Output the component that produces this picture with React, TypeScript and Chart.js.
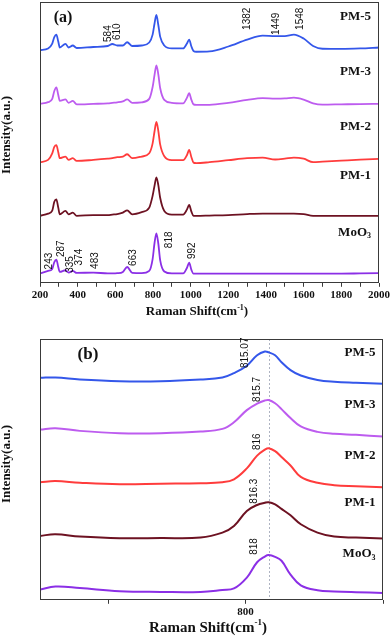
import { useEffect, useRef } from "react";
import { Chart, registerables } from "chart.js";
Chart.register(...registerables);

// ---------- shared ----------
const SERIES_NAMES = ["PM-5", "PM-3", "PM-2", "PM-1", "MoO3"];
const COLORS = ["#3457ea", "#bd5cef", "#ff3c3c", "#6d1222", "#8b2fe6"];

// ---------- panel (a): full Raman spectra ----------
const X_TOP = [200, 243, 265, 276, 287, 297, 305, 335, 352, 374, 395, 483, 560, 584, 610, 640, 663, 690, 740, 780, 798, 808, 818, 828, 838, 860, 900, 960, 980, 992, 1004, 1015, 1030, 1100, 1200, 1300, 1382, 1449, 1500, 1548, 1600, 1650, 1700, 1800, 1900, 2000];
const PM5_TOP = [235.3, 237, 242, 248.5, 251, 244, 238, 241.7, 238, 240, 237.5, 238.5, 239.5, 241.5, 240, 240, 243.3, 239.5, 240, 243, 251, 262, 271, 261, 249, 240, 237, 237, 242, 246, 239, 234.5, 233.7, 234, 239, 246, 250, 249.5, 249.5, 251, 247, 239.5, 236.7, 236.5, 237, 238];
const PM3_TOP = [181, 182.7, 186, 194, 197.7, 190, 184, 185.5, 182, 184, 180.5, 181, 181.5, 182, 182.5, 183.5, 185.5, 182, 182.5, 186, 198, 210, 220, 211, 197, 185, 182, 181.5, 187, 191.7, 185, 180.5, 180, 180, 182, 185, 186.7, 186.3, 186.5, 187.3, 185.3, 181.5, 180.2, 180.5, 180.8, 181];
const PM2_TOP = [122, 124.3, 131, 137.5, 139.3, 132, 126, 127.7, 124.3, 126, 123.3, 124.3, 125.5, 126, 127, 127.7, 130, 126, 127.7, 131, 141, 153, 162.7, 154, 140, 128, 124, 124, 129, 134.3, 127, 121.5, 121, 122, 124, 126, 126.7, 124.7, 125.5, 126.7, 125.5, 122, 122.5, 123.5, 124.5, 125.3];
const PM1_TOP = [67.7, 70, 73, 82, 84.3, 76, 69.3, 72.7, 69.3, 71, 67.7, 68.5, 68.5, 69, 69.5, 71, 73.3, 69.3, 71.5, 76, 88, 98, 106.7, 99, 86, 72.7, 69, 69, 74, 78.7, 72, 67.7, 67.7, 68, 68.5, 69.5, 70, 70, 70, 70, 69.5, 67.7, 67.7, 67.7, 67.7, 67.7];
const MOO3_TOP = [9.3, 12, 14, 21, 23.3, 16, 11, 12.7, 10.3, 12, 10, 10.3, 9.5, 9.5, 9.7, 11, 16, 10, 9.7, 12, 24, 40, 50, 40, 23, 11.5, 9.5, 9.5, 15, 20.3, 13, 9.3, 9.3, 9.3, 9.3, 9.3, 9.3, 9.3, 9.3, 9.3, 9.3, 9.3, 9.3, 9.3, 9.5, 9.7];
const TOP_NAME_Y = [269, 214, 158, 108, 51];
const TOP_PEAK_LABELS: [string, number, number][] = [
  ["584", 561, 252], ["610", 612, 254], ["1382", 1301, 267], ["1449", 1457, 262], ["1548", 1582, 267],
  ["243", 247, 22], ["287", 314, 34.5], ["335", 362, 18.5], ["374", 406, 26], ["483", 494, 22.5],
  ["663", 697, 25.5], ["818", 885, 43.5], ["992", 1010, 32.5],
];

// ---------- panel (b): zoom on the ~818 band ----------
const X_BOT = [640, 652, 671, 702, 734, 765, 782, 791, 801, 809, 815, 818, 823, 828, 835, 843, 856, 869, 886, 907];
const PM5_BOT = [224.7, 225, 223, 221.3, 221.3, 223, 225, 229.5, 237, 247.5, 251.3, 250.5, 247.5, 240.5, 232.5, 227, 222.5, 220.7, 219.7, 218.7];
const PM3_BOT = [172.3, 173.7, 171, 168.7, 168.7, 170.3, 173, 179.7, 192, 198.5, 201.7, 202.2, 199, 193, 184, 175.5, 170, 168, 167, 165.3];
const PM2_BOT = [119, 120.2, 118.5, 117, 117.5, 118, 119, 122, 133, 146, 152, 153.5, 150.5, 144.5, 136, 124.5, 118.5, 116, 115, 114];
const PM1_BOT = [64.7, 66.3, 64, 62.3, 62.5, 63, 68, 74.7, 90, 96, 98.2, 98.7, 96.5, 92, 85.5, 76.5, 68, 64, 63, 62];
const MOO3_BOT = [10.3, 13.5, 12, 8.7, 8, 8, 10, 11.5, 22.5, 38, 43.8, 45.3, 43.5, 39.5, 25.5, 14.7, 9.7, 8.5, 7.7, 7];
const BOT_NAME_Y = [250.3, 198, 146.3, 98, 46.3];
const BOT_PEAK_LABELS: [string, number, number][] = [
  ["815.07", 800, 250], ["815.7", 809, 213], ["816", 809, 160], ["816.3", 806.5, 110], ["818", 806.5, 54],
];
const BOT_TICKS = [693, 800, 907];
const BOT_REF_LINE = 818;

const SERIF = '"Liberation Serif", "Times New Roman", serif';
const SANS = '"Liberation Sans", Arial, sans-serif';

function drawXTitle(ctx: CanvasRenderingContext2D, cx: number, cy: number, size: number) {
  const f = `bold ${size}px ${SERIF}`;
  const fs = `bold ${Math.round(size * 0.62)}px ${SERIF}`;
  const p1 = "Raman Shift(cm", p2 = "-1", p3 = ")";
  ctx.font = f;
  const w1 = ctx.measureText(p1).width;
  const w3 = ctx.measureText(p3).width;
  ctx.font = fs;
  const w2 = ctx.measureText(p2).width;
  let x = cx - (w1 + w2 + w3) / 2;
  ctx.textAlign = "left";
  ctx.textBaseline = "middle";
  ctx.font = f; ctx.fillText(p1, x, cy); x += w1;
  ctx.font = fs; ctx.fillText(p2, x, cy - size * 0.35); x += w2;
  ctx.font = f; ctx.fillText(p3, x, cy);
}

function drawName(ctx: CanvasRenderingContext2D, name: string, right: number, y: number, size: number) {
  ctx.textBaseline = "middle";
  ctx.textAlign = "right";
  if (name === "MoO3") {
    const fs = `bold ${Math.round(size * 0.65)}px ${SERIF}`;
    ctx.font = fs;
    const w3 = ctx.measureText("3").width;
    ctx.fillText("3", right, y + size * 0.3);
    ctx.font = `bold ${size}px ${SERIF}`;
    ctx.fillText("MoO", right - w3, y);
  } else {
    ctx.font = `bold ${size}px ${SERIF}`;
    ctx.fillText(name, right, y);
  }
}

type Decor = {
  peaks: [string, number, number][];
  nameY: number[];
  nameRightInset: number;
  nameSize: number;
  letter: string;
  letterPos: [number, number];
  letterSize: number;
  yTitlePos: [number, number];
  xTitlePos: [number, number];
  xTitleSize: number;
  refLine?: number;
};

function makeDecor(d: Decor) {
  return {
    id: "decor",
    beforeDatasetsDraw(chart: any) {
      const { ctx, chartArea: a, scales } = chart;
      if (d.refLine != null) {
        const px = Math.round(scales.x.getPixelForValue(d.refLine)) + 0.5;
        ctx.save();
        ctx.strokeStyle = "#aeb3c2";
        ctx.lineWidth = 1;
        ctx.setLineDash([2, 2]);
        ctx.beginPath();
        ctx.moveTo(px, a.top);
        ctx.lineTo(px, a.bottom);
        ctx.stroke();
        ctx.restore();
      }
    },
    afterDatasetsDraw(chart: any) {
      const { ctx, chartArea: a, scales } = chart;
      const x = scales.x, y = scales.y;
      ctx.save();
      ctx.strokeStyle = "#3a3a3a";
      ctx.lineWidth = 1;
      ctx.strokeRect(Math.round(a.left) + 0.5, Math.round(a.top) + 0.5, Math.round(a.right - a.left) - 1, Math.round(a.bottom - a.top) - 1);
      ctx.fillStyle = "#111";
      ctx.font = `10px ${SANS}`;
      for (const [t, vx, vy] of d.peaks) {
        ctx.save();
        ctx.translate(x.getPixelForValue(vx), y.getPixelForValue(vy));
        ctx.rotate(-Math.PI / 2);
        ctx.textAlign = "center";
        ctx.textBaseline = "middle";
        ctx.fillText(t, 0, 0);
        ctx.restore();
      }
      SERIES_NAMES.forEach((n, i) => drawName(ctx, n, a.right - d.nameRightInset, y.getPixelForValue(d.nameY[i]), d.nameSize));
      ctx.font = `bold ${d.letterSize}px ${SERIF}`;
      ctx.textAlign = "center";
      ctx.textBaseline = "middle";
      ctx.fillText(d.letter, d.letterPos[0], d.letterPos[1]);
      ctx.save();
      ctx.translate(d.yTitlePos[0], d.yTitlePos[1]);
      ctx.rotate(-Math.PI / 2);
      ctx.font = `bold 13px ${SERIF}`;
      ctx.textAlign = "center";
      ctx.textBaseline = "middle";
      ctx.fillText("Intensity(a.u.)", 0, 0);
      ctx.restore();
      drawXTitle(ctx, d.xTitlePos[0], d.xTitlePos[1], d.xTitleSize);
      ctx.restore();
    },
  };
}

function datasets(xs: number[], series: number[][], width: number, smooth: boolean) {
  return series.map((vals, i) => ({
    label: SERIES_NAMES[i],
    data: xs.map((x, j) => ({ x, y: vals[j] })),
    borderColor: COLORS[i],
    borderWidth: width,
    pointRadius: 0,
    fill: false,
    ...(smooth ? { tension: 0.4, cubicInterpolationMode: "default" as const } : { cubicInterpolationMode: "monotone" as const }),
  }));
}

const tickFont = { family: SERIF, size: 11, weight: "bold" as const };

export default function App() {
  const topRef = useRef<HTMLCanvasElement>(null);
  const botRef = useRef<HTMLCanvasElement>(null);

  useEffect(() => {
    const top = new Chart(topRef.current!, {
      type: "line",
      data: { datasets: datasets(X_TOP, [PM5_TOP, PM3_TOP, PM2_TOP, PM1_TOP, MOO3_TOP], 1.8, false) },
      options: {
        responsive: false,
        animation: false,
        devicePixelRatio: 1,
        layout: { padding: { left: 40, right: 12, top: 2, bottom: 16 } },
        plugins: { legend: { display: false }, tooltip: { enabled: false } },
        scales: {
          x: {
            type: "linear",
            min: 200,
            max: 2000,
            border: { display: false },
            grid: { display: true, drawOnChartArea: false, drawTicks: true, tickLength: 4, color: "#3a3a3a" },
            ticks: {
              stepSize: 100,
              autoSkip: false,
              maxRotation: 0,
              padding: 2,
              color: "#111",
              font: tickFont,
              callback: (v: any) => (Number(v) % 200 === 0 ? String(v) : ""),
            },
          },
          y: { type: "linear", min: 0, max: 284, display: false },
        },
      },
      plugins: [
        makeDecor({
          peaks: TOP_PEAK_LABELS,
          nameY: TOP_NAME_Y,
          nameRightInset: 8,
          nameSize: 13,
          letter: "(a)",
          letterPos: [63, 18],
          letterSize: 16,
          yTitlePos: [7, 135],
          xTitlePos: [197, 312],
          xTitleSize: 13,
        }),
      ],
    });

    const bot = new Chart(botRef.current!, {
      type: "line",
      data: { datasets: datasets(X_BOT, [PM5_BOT, PM3_BOT, PM2_BOT, PM1_BOT, MOO3_BOT], 2, true) },
      options: {
        responsive: false,
        animation: false,
        devicePixelRatio: 1,
        layout: { padding: { left: 40, right: 9, top: 19, bottom: 15 } },
        plugins: { legend: { display: false }, tooltip: { enabled: false } },
        scales: {
          x: {
            type: "linear",
            min: 640,
            max: 907,
            border: { display: false },
            grid: { display: true, drawOnChartArea: false, drawTicks: true, tickLength: 4, color: "#3a3a3a" },
            afterBuildTicks: (axis: any) => {
              axis.ticks = BOT_TICKS.map((v) => ({ value: v }));
            },
            ticks: {
              autoSkip: false,
              maxRotation: 0,
              padding: 2,
              color: "#111",
              font: tickFont,
              callback: (v: any) => (Number(v) === 800 ? "800" : ""),
            },
          },
          y: { type: "linear", min: 0, max: 264, display: false },
        },
      },
      plugins: [
        makeDecor({
          peaks: BOT_PEAK_LABELS,
          nameY: BOT_NAME_Y,
          nameRightInset: 7.5,
          nameSize: 13,
          letter: "(b)",
          letterPos: [88, 35],
          letterSize: 17,
          yTitlePos: [7, 144],
          xTitlePos: [208, 308],
          xTitleSize: 15,
          refLine: BOT_REF_LINE,
        }),
      ],
    });

    return () => {
      top.destroy();
      bot.destroy();
    };
  }, []);

  return (
    <div style={{ position: "absolute", left: 0, top: 0, width: 392, height: 636, background: "#fff", overflow: "hidden" }}>
      <canvas ref={topRef} width={392} height={320} style={{ position: "absolute", left: 0, top: 0, display: "block" }} />
      <canvas ref={botRef} width={392} height={316} style={{ position: "absolute", left: 0, top: 320, display: "block" }} />
    </div>
  );
}
